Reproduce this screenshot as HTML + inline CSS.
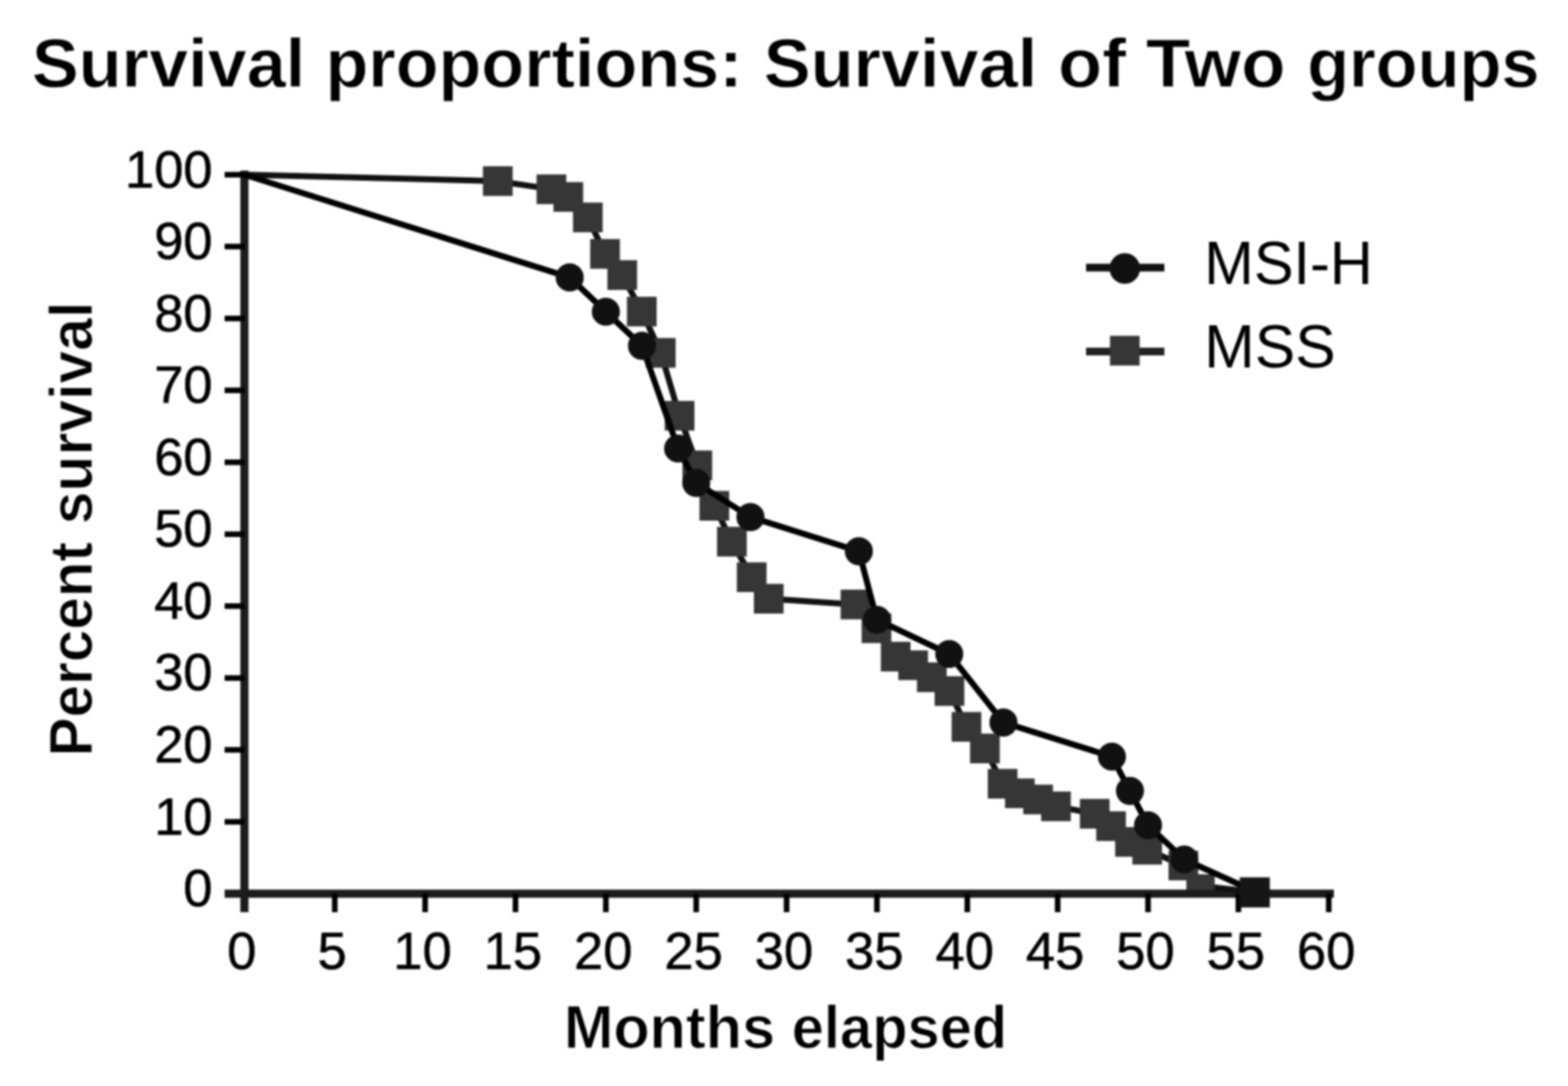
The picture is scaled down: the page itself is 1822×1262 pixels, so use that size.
<!DOCTYPE html><html><head><meta charset="utf-8"><title>Survival proportions</title><style>
html,body{margin:0;padding:0;background:#fff;}body{width:1822px;height:1262px;overflow:hidden;}
svg{display:block;filter:blur(1.3px);}text{font-family:"Liberation Sans",Arial,sans-serif;fill:#000;}
</style></head><body>
<svg width="1822" height="1262" viewBox="0 0 1822 1262">
<rect width="1822" height="1262" fill="#fff"/>
<g font-size="79.5" font-weight="bold" stroke="#fff" stroke-width="0.8">
<text x="37.0" y="100.5" textLength="317.8" lengthAdjust="spacingAndGlyphs">Survival</text>
<text x="378.2" y="100.5" textLength="484.7" lengthAdjust="spacingAndGlyphs">proportions:</text>
<text x="887.4" y="100.5" textLength="317.9" lengthAdjust="spacingAndGlyphs">Survival</text>
<text x="1229.6" y="100.5" textLength="78.9" lengthAdjust="spacingAndGlyphs">of</text>
<text x="1331.4" y="100.5" textLength="162.2" lengthAdjust="spacingAndGlyphs">Two</text>
<text x="1518.9" y="100.5" textLength="270.0" lengthAdjust="spacingAndGlyphs">groups</text>
</g>
<g stroke="#1c1c1c" stroke-width="9.5" fill="none" stroke-linecap="butt">
<line x1="284.0" y1="198.25" x2="284.0" y2="1060"/>
<line x1="261" y1="1038.5" x2="1550" y2="1038.5"/>
</g>
<g stroke="#000" stroke-width="6.5" fill="none">
<line x1="261" y1="955.0" x2="284.0" y2="955.0"/>
<line x1="261" y1="871.4" x2="284.0" y2="871.4"/>
<line x1="261" y1="787.9" x2="284.0" y2="787.9"/>
<line x1="261" y1="704.3" x2="284.0" y2="704.3"/>
<line x1="261" y1="620.8" x2="284.0" y2="620.8"/>
<line x1="261" y1="537.2" x2="284.0" y2="537.2"/>
<line x1="261" y1="453.6" x2="284.0" y2="453.6"/>
<line x1="261" y1="370.1" x2="284.0" y2="370.1"/>
<line x1="261" y1="286.5" x2="284.0" y2="286.5"/>
<line x1="261" y1="203.0" x2="284.0" y2="203.0"/>
<line x1="389.0" y1="1038.5" x2="389.0" y2="1060"/>
<line x1="494.0" y1="1038.5" x2="494.0" y2="1060"/>
<line x1="599.0" y1="1038.5" x2="599.0" y2="1060"/>
<line x1="704.0" y1="1038.5" x2="704.0" y2="1060"/>
<line x1="809.0" y1="1038.5" x2="809.0" y2="1060"/>
<line x1="914.0" y1="1038.5" x2="914.0" y2="1060"/>
<line x1="1019.0" y1="1038.5" x2="1019.0" y2="1060"/>
<line x1="1124.0" y1="1038.5" x2="1124.0" y2="1060"/>
<line x1="1229.0" y1="1038.5" x2="1229.0" y2="1060"/>
<line x1="1334.0" y1="1038.5" x2="1334.0" y2="1060"/>
<line x1="1439.0" y1="1038.5" x2="1439.0" y2="1060"/>
<line x1="1544.0" y1="1038.5" x2="1544.0" y2="1060"/>
</g>
<g font-size="61" text-anchor="end" stroke="#000" stroke-width="0.6">
<text x="247" y="1053.0">0</text>
<text x="247" y="969.5">10</text>
<text x="247" y="885.9">20</text>
<text x="247" y="802.4">30</text>
<text x="247" y="718.8">40</text>
<text x="247" y="635.2">50</text>
<text x="247" y="551.7">60</text>
<text x="247" y="468.1">70</text>
<text x="247" y="384.6">80</text>
<text x="247" y="301.0">90</text>
<text x="247" y="217.5">100</text>
</g>
<g font-size="61" text-anchor="middle" stroke="#000" stroke-width="0.6">
<text x="281.0" y="1126">0</text>
<text x="386.0" y="1126">5</text>
<text x="491.0" y="1126">10</text>
<text x="596.0" y="1126">15</text>
<text x="701.0" y="1126">20</text>
<text x="806.0" y="1126">25</text>
<text x="911.0" y="1126">30</text>
<text x="1016.0" y="1126">35</text>
<text x="1121.0" y="1126">40</text>
<text x="1226.0" y="1126">45</text>
<text x="1331.0" y="1126">50</text>
<text x="1436.0" y="1126">55</text>
<text x="1541.0" y="1126">60</text>
</g>
<g font-weight="bold" stroke="#fff" stroke-width="1">
<text x="655.2" y="1218" font-size="71" textLength="245.4" lengthAdjust="spacingAndGlyphs">Months</text>
<text x="919.9" y="1218" font-size="71" textLength="250.5" lengthAdjust="spacingAndGlyphs">elapsed</text>
<g transform="translate(106.5,0) rotate(-90)" font-size="71">
<text x="-879.1" y="0" textLength="249.3" lengthAdjust="spacingAndGlyphs">Percent</text>
<text x="-609.2" y="0" textLength="258.6" lengthAdjust="spacingAndGlyphs">survival</text>
</g></g>
<polyline points="284.0,203.0 578.5,210.5 640.8,219.9 660.4,228.8 683.0,252.7 703.0,295.0 723.0,319.7 745.8,362.0 767.9,410.0 789.6,483.2 810.2,540.8 830.0,587.7 850.5,629.5 873.5,670.7 893.3,695.8 994.0,702.5 1018.5,730.0 1040.8,763.0 1061.0,773.0 1082.7,787.0 1103.3,803.0 1123.0,844.6 1144.5,869.8 1165.0,910.7 1185.0,921.9 1206.3,929.0 1227.0,937.0 1272.0,945.6 1291.0,960.0 1313.0,978.4 1333.0,987.5 1375.0,1005.8 1395.0,1029.5 1457.7,1036.5" fill="none" stroke="#111" stroke-width="7" stroke-linejoin="round"/>
<rect x="561.2" y="193.2" width="34.5" height="34.5" fill="#363636"/>
<rect x="623.5" y="202.7" width="34.5" height="34.5" fill="#363636"/>
<rect x="643.1" y="211.6" width="34.5" height="34.5" fill="#363636"/>
<rect x="665.8" y="235.4" width="34.5" height="34.5" fill="#363636"/>
<rect x="685.8" y="277.8" width="34.5" height="34.5" fill="#363636"/>
<rect x="705.8" y="302.4" width="34.5" height="34.5" fill="#363636"/>
<rect x="728.5" y="344.8" width="34.5" height="34.5" fill="#363636"/>
<rect x="750.6" y="392.8" width="34.5" height="34.5" fill="#363636"/>
<rect x="772.4" y="465.9" width="34.5" height="34.5" fill="#363636"/>
<rect x="793.0" y="523.5" width="34.5" height="34.5" fill="#363636"/>
<rect x="812.8" y="570.5" width="34.5" height="34.5" fill="#363636"/>
<rect x="833.2" y="612.2" width="34.5" height="34.5" fill="#363636"/>
<rect x="856.2" y="653.5" width="34.5" height="34.5" fill="#363636"/>
<rect x="876.0" y="678.5" width="34.5" height="34.5" fill="#363636"/>
<rect x="976.8" y="685.2" width="34.5" height="34.5" fill="#363636"/>
<rect x="1001.2" y="712.8" width="34.5" height="34.5" fill="#363636"/>
<rect x="1023.5" y="745.8" width="34.5" height="34.5" fill="#363636"/>
<rect x="1043.8" y="755.8" width="34.5" height="34.5" fill="#363636"/>
<rect x="1065.5" y="769.8" width="34.5" height="34.5" fill="#363636"/>
<rect x="1086.0" y="785.8" width="34.5" height="34.5" fill="#363636"/>
<rect x="1105.8" y="827.4" width="34.5" height="34.5" fill="#363636"/>
<rect x="1127.2" y="852.5" width="34.5" height="34.5" fill="#363636"/>
<rect x="1147.8" y="893.5" width="34.5" height="34.5" fill="#363636"/>
<rect x="1167.8" y="904.6" width="34.5" height="34.5" fill="#363636"/>
<rect x="1189.0" y="911.8" width="34.5" height="34.5" fill="#363636"/>
<rect x="1209.8" y="919.8" width="34.5" height="34.5" fill="#363636"/>
<rect x="1254.8" y="928.4" width="34.5" height="34.5" fill="#363636"/>
<rect x="1273.8" y="942.8" width="34.5" height="34.5" fill="#363636"/>
<rect x="1295.8" y="961.1" width="34.5" height="34.5" fill="#363636"/>
<rect x="1315.8" y="970.2" width="34.5" height="34.5" fill="#363636"/>
<rect x="1357.8" y="988.5" width="34.5" height="34.5" fill="#363636"/>
<rect x="1378.5" y="1016" width="33" height="18" fill="#363636"/>
<polyline points="284.0,203.0 662.0,322.4 704.0,362.2 746.0,401.9 788.0,521.3 809.0,561.1 872.0,600.9 998.0,640.6 1019.0,720.2 1103.0,760.0 1166.0,839.6 1292.0,879.3 1313.0,919.1 1334.0,959.0 1376.0,998.7 1462.1,1037.7" fill="none" stroke="#000" stroke-width="7" stroke-linejoin="round"/>
<circle cx="662.0" cy="322.4" r="16.3" fill="#111"/>
<circle cx="704.0" cy="362.2" r="16.3" fill="#111"/>
<circle cx="746.0" cy="401.9" r="16.3" fill="#111"/>
<circle cx="788.0" cy="521.3" r="16.3" fill="#111"/>
<circle cx="809.0" cy="561.1" r="16.3" fill="#111"/>
<circle cx="872.0" cy="600.9" r="16.3" fill="#111"/>
<circle cx="998.0" cy="640.6" r="16.3" fill="#111"/>
<circle cx="1019.0" cy="720.2" r="16.3" fill="#111"/>
<circle cx="1103.0" cy="760.0" r="16.3" fill="#111"/>
<circle cx="1166.0" cy="839.6" r="16.3" fill="#111"/>
<circle cx="1292.0" cy="879.3" r="16.3" fill="#111"/>
<circle cx="1313.0" cy="919.1" r="16.3" fill="#111"/>
<circle cx="1334.0" cy="959.0" r="16.3" fill="#111"/>
<circle cx="1376.0" cy="998.7" r="16.3" fill="#111"/>
<rect x="1440.5" y="1019.5" width="35" height="35" fill="#161616"/>
<line x1="1262" y1="311" x2="1353" y2="311" stroke="#111" stroke-width="9"/>
<circle cx="1307" cy="312" r="17.8" fill="#111"/>
<line x1="1262" y1="408.5" x2="1353" y2="408.5" stroke="#222" stroke-width="9"/>
<rect x="1289.75" y="390.25" width="34.5" height="34.5" fill="#363636"/>
<text x="1399.3" y="330" font-size="70" fill="#262626" textLength="196" lengthAdjust="spacingAndGlyphs">MSI-H</text>
<text x="1399.2" y="427" font-size="70" fill="#262626" textLength="152.8" lengthAdjust="spacingAndGlyphs">MSS</text>
</svg></body></html>
